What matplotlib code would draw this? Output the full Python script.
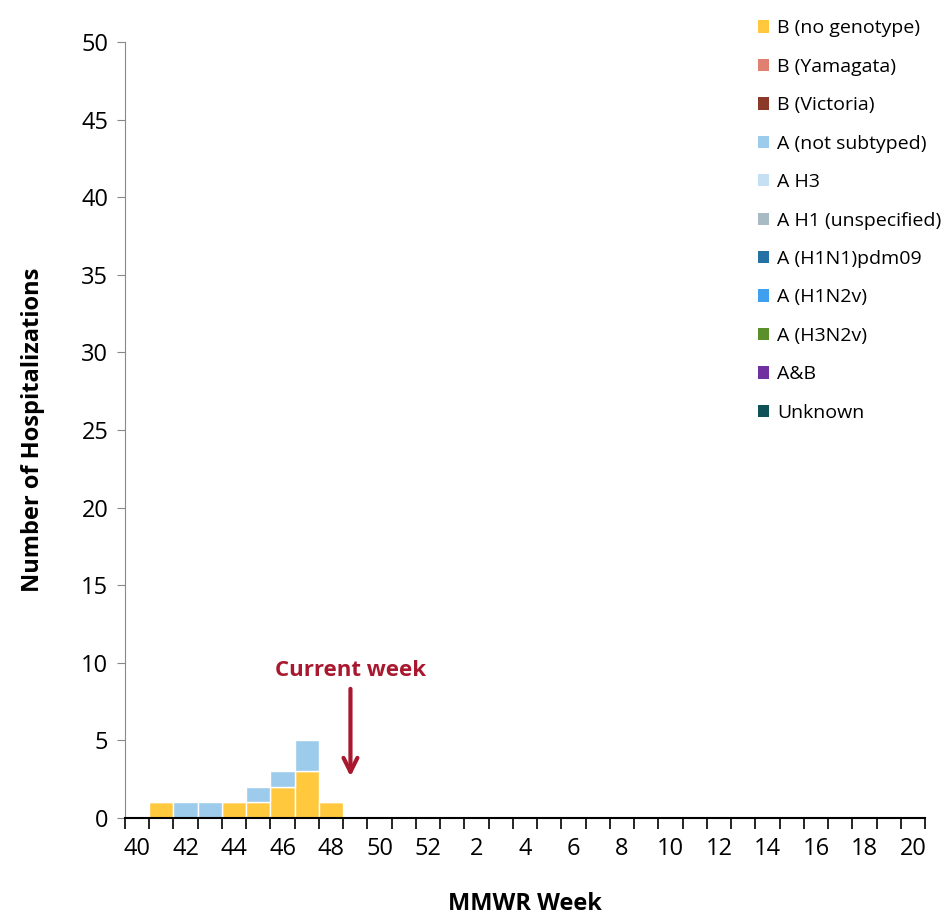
import matplotlib
matplotlib.use("Agg")
import matplotlib.pyplot as plt
from matplotlib.patches import Patch
import numpy as np

plt.rcParams['font.family'] = ['Open Sans', 'DejaVu Sans']

week_labels = [40,41,42,43,44,45,46,47,48,49,50,51,52] + list(range(1,21))
b_no_genotype = [0,1,0,0,1,1,2,3,1] + [0]*24
a_not_subtyped = [0,0,1,1,0,1,1,2,0] + [0]*24

series_names = ["B (no genotype)","B (Yamagata)","B (Victoria)","A (not subtyped)","A H3",
                "A H1 (unspecified)","A (H1N1)pdm09","A (H1N2v)","A (H3N2v)","A&B","Unknown"]
series_colors = ["#FFC83D","#E08070","#8B3A2A","#9DCBEB","#C5E0F3","#A8BAC4","#2471A3",
                 "#3FA0F0","#5A8F29","#7030A0","#0E5257"]

fig = plt.figure(figsize=(9.48,9.21), dpi=100)
ax = fig.add_axes([125/948, 1-818/921, 800/948, 776/921])
x = np.arange(len(week_labels)) + 0.5
ax.bar(x, b_no_genotype, width=1, color=series_colors[0], edgecolor='white', linewidth=1)
ax.bar(x, a_not_subtyped, width=1, bottom=b_no_genotype, color=series_colors[3], edgecolor='white', linewidth=1)

ax.set_xlim(0, 33)
ax.set_ylim(0, 50)
ax.set_xticks(np.arange(0, 34))
ax.set_xticklabels([])
ax.set_xticks(x[::2], minor=True)
ax.set_xticklabels([str(w) for w in week_labels[::2]], minor=True, fontsize=17)
ax.tick_params(axis='x', which='minor', length=0, pad=14)
ax.set_yticks(range(0, 51, 5))
ax.tick_params(axis='y', labelsize=17, length=6, color='#888888', pad=6)
ax.tick_params(axis='x', which='major', length=8, width=1.2)
for s in ['top','right']:
    ax.spines[s].set_visible(False)
ax.spines['left'].set_color('#888888')
ax.spines['bottom'].set_linewidth(1.5)
ax.set_ylabel("Number of Hospitalizations", fontsize=17, fontweight='bold', labelpad=26)
ax.set_xlabel("MMWR Week", fontsize=17, fontweight='bold', labelpad=22)

ax.annotate("", xy=(9.3, 2.5), xytext=(9.3, 8.5),
            arrowprops=dict(arrowstyle='->,head_width=0.5,head_length=1', color='#A8182E', lw=3))
ax.text(9.3, 8.8, "Current week", color='#A8182E', fontsize=16, fontweight='bold', ha='center', va='bottom')

handles = [Patch(facecolor=c, label=n) for n, c in zip(series_names, series_colors)]
fig.legend(handles=handles, loc='upper left', bbox_to_anchor=(740/948, 1-2/921), frameon=False,
           fontsize=14, handlelength=0.6, handleheight=0.6, handletextpad=0.4, labelspacing=1.05)

fig.savefig("out.png", dpi=100)
